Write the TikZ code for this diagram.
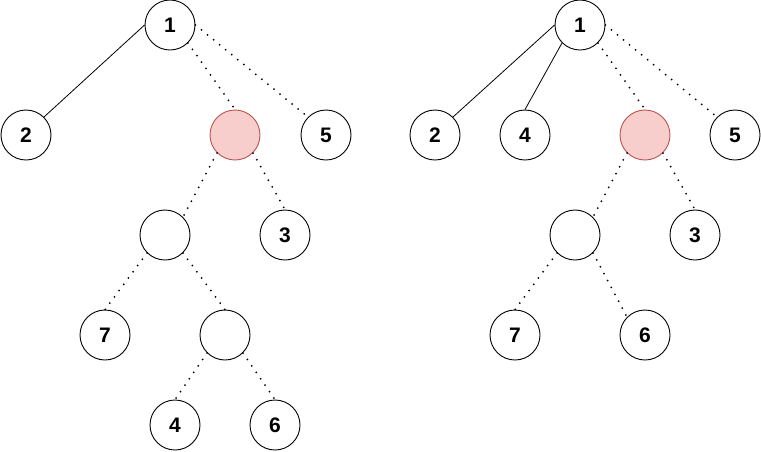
\documentclass[tikz,border=0pt]{standalone}
\usepackage{fontspec}
\setmainfont{Liberation Sans}
\usepackage{xcolor}
\definecolor{hilitefill}{HTML}{F8CECC}
\definecolor{hiliteline}{HTML}{B85450}
\begin{document}
\begin{tikzpicture}[x=1pt,y=-1pt,
  vtx/.style={circle,draw=black,line width=0.9pt,minimum size=50pt,inner sep=0pt,fill=white,
    font=\fontsize{21}{25}\selectfont\bfseries},
  hit/.style={vtx,fill=hilitefill,draw=hiliteline},
  tree/.style={line width=0.8pt},
  gone/.style={line width=2pt,line cap=round,dash pattern=on 0pt off 7.8pt}]
  \useasboundingbox (0,0) rectangle (761,451);
  % left tree
  \node[vtx] (la) at (170,25) {1};
  \node[vtx] (lb) at (26,135) {2};
  \node[hit] (lp) at (235,135) {};
  \node[vtx] (le) at (326,135) {5};
  \node[vtx] (lq) at (165,235) {};
  \node[vtx] (lc) at (285,235) {3};
  \node[vtx] (lg) at (105,335) {7};
  \node[vtx] (lr) at (225,335) {};
  \node[vtx] (ld) at (175,425) {4};
  \node[vtx] (lf) at (275,425) {6};
  \draw[tree] (la.west) -- (lb.north east);
  \draw[gone] (la.south east) -- (lp.north);
  \draw[gone] (la.east) -- (le.north west);
  \draw[gone] (lp.south west) -- (lq.north east);
  \draw[gone] (lp.south east) -- (lc.north);
  \draw[gone] (lq.south west) -- (lg.north);
  \draw[gone] (lq.south east) -- (lr.north);
  \draw[gone] (lr.south west) -- (ld.north);
  \draw[gone] (lr.south east) -- (lf.north);
  % right tree
  \node[vtx] (ra) at (580,25) {1};
  \node[vtx] (rb) at (435,135) {2};
  \node[vtx] (rd) at (525,135) {4};
  \node[hit] (rp) at (645,135) {};
  \node[vtx] (re) at (735,135) {5};
  \node[vtx] (rq) at (575,235) {};
  \node[vtx] (rc) at (695,235) {3};
  \node[vtx] (rg) at (515,335) {7};
  \node[vtx] (rf) at (645,335) {6};
  \draw[tree] (ra.west) -- (rb.north east);
  \draw[tree] (ra.south west) -- (rd.north);
  \draw[gone] (ra.south east) -- (rp.north);
  \draw[gone] (ra.east) -- (re.north west);
  \draw[gone] (rp.south west) -- (rq.north east);
  \draw[gone] (rp.south east) -- (rc.north);
  \draw[gone] (rq.south west) -- (rg.north);
  \draw[gone] (rq.south east) -- (rf.north west);
\end{tikzpicture}
\end{document}
